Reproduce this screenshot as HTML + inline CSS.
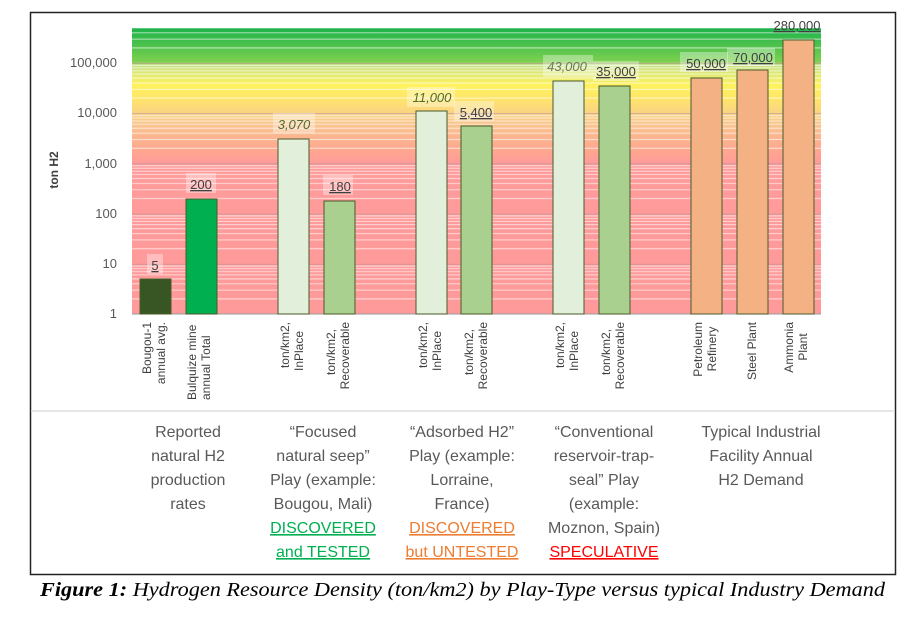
<!DOCTYPE html>
<html><head><meta charset="utf-8"><style>
html,body{margin:0;padding:0;background:#fff;}
svg{display:block;}
</style></head><body>
<svg width="923" height="619" viewBox="0 0 923 619" xmlns="http://www.w3.org/2000/svg" font-family="Liberation Sans, sans-serif">
<defs>
<linearGradient id="bg" x1="0" y1="28" x2="0" y2="314" gradientUnits="userSpaceOnUse">
<stop offset="0" stop-color="#1db34a"/>
<stop offset="0.118" stop-color="#7dd050"/>
<stop offset="0.13" stop-color="#c8e285"/>
<stop offset="0.2" stop-color="#fff25e"/>
<stop offset="0.25" stop-color="#ffe46c"/>
<stop offset="0.3" stop-color="#f9d285"/>
<stop offset="0.35" stop-color="#f9c090"/>
<stop offset="0.43" stop-color="#ffa690"/>
<stop offset="0.475" stop-color="#ff9b9a"/>
<stop offset="1" stop-color="#ff9a9a"/>
</linearGradient>
<pattern id="grid" patternUnits="userSpaceOnUse" x="0" y="12.8" width="1000" height="50.2">
<g stroke="#fff" stroke-opacity="0.6" stroke-width="1">
<line x1="0" x2="1000" y1="35.1" y2="35.1"/>
<line x1="0" x2="1000" y1="26.3" y2="26.3"/>
<line x1="0" x2="1000" y1="20" y2="20"/>
<line x1="0" x2="1000" y1="15.1" y2="15.1"/>
<line x1="0" x2="1000" y1="11.1" y2="11.1"/>
<line x1="0" x2="1000" y1="7.8" y2="7.8"/>
<line x1="0" x2="1000" y1="4.9" y2="4.9"/>
<line x1="0" x2="1000" y1="2.3" y2="2.3"/>
</g>
<line x1="0" x2="1000" y1="0.5" y2="0.5" stroke="#b89090" stroke-opacity="0.6"/>
</pattern>
</defs>
<rect x="30.5" y="12.5" width="865" height="562" fill="#fff" stroke="#222" stroke-width="1.5"/>
<line x1="31" x2="895" y1="411" y2="411" stroke="#ddd" stroke-width="1.5"/>
<rect x="132" y="28" width="689" height="286" fill="url(#bg)"/>
<rect x="132" y="28" width="689" height="286" fill="url(#grid)"/>
<line x1="132" x2="821" y1="314" y2="314" stroke="#999"/>
<!-- y ticks -->
<g font-size="13" fill="#595959" text-anchor="end">
<text x="117" y="318">1</text>
<text x="117" y="268">10</text>
<text x="117" y="218">100</text>
<text x="117" y="168">1,000</text>
<text x="117" y="117">10,000</text>
<text x="117" y="67">100,000</text>
</g>
<text transform="translate(58,170) rotate(-90)" font-size="12" font-weight="bold" fill="#404040" text-anchor="middle">ton H2</text>
<!-- bars -->
<g stroke="#4a5a2a" stroke-width="1">
<rect x="140" y="279" width="31" height="35" fill="#375623"/>
<rect x="186" y="199" width="31" height="115" fill="#00b050"/>
<rect x="278" y="139" width="31" height="175" fill="#e2efda"/>
<rect x="324" y="201" width="31" height="113" fill="#a9d08e"/>
<rect x="416" y="111" width="31" height="203" fill="#e2efda"/>
<rect x="461" y="126" width="31" height="188" fill="#a9d08e"/>
<rect x="553" y="81" width="31" height="233" fill="#e2efda"/>
<rect x="599" y="86" width="31" height="228" fill="#a9d08e"/>
<rect x="691" y="78" width="31" height="236" fill="#f4b183"/>
<rect x="737" y="70" width="31" height="244" fill="#f4b183"/>
<rect x="783" y="40" width="31" height="274" fill="#f4b183"/>
</g>
<!-- value labels -->
<g font-size="13" fill="#404040" text-anchor="middle">
<rect x="147" y="254" width="16" height="20" fill="#fff" fill-opacity="0.35"/>
<text x="155" y="270" text-decoration="underline">5</text>
<rect x="186" y="173" width="30" height="20" fill="#fff" fill-opacity="0.35"/>
<text x="201" y="189" text-decoration="underline">200</text>
<rect x="273" y="113" width="42" height="20" fill="#fff" fill-opacity="0.35"/>
<text x="294" y="129" font-style="italic" fill="#4f6b2f">3,070</text>
<rect x="323" y="175" width="30" height="20" fill="#fff" fill-opacity="0.35"/>
<text x="340" y="191" text-decoration="underline">180</text>
<rect x="407" y="87" width="48" height="20" fill="#fff" fill-opacity="0.35"/>
<text x="432" y="102" font-style="italic" fill="#4f6b2f">11,000</text>
<rect x="454" y="101" width="40" height="20" fill="#fff" fill-opacity="0.35"/>
<text x="476" y="117" text-decoration="underline">5,400</text>
<rect x="543" y="55" width="50" height="22" fill="#fff" fill-opacity="0.35"/>
<text x="567" y="71" font-style="italic" fill="#6a7a5a">43,000</text>
<rect x="593" y="61" width="46" height="20" fill="#fff" fill-opacity="0.35"/>
<text x="616" y="76" text-decoration="underline">35,000</text>
<rect x="680" y="52" width="48" height="20" fill="#fff" fill-opacity="0.35"/>
<text x="706" y="68" text-decoration="underline">50,000</text>
<rect x="727" y="48" width="48" height="18" fill="#fff" fill-opacity="0.35"/>
<text x="753" y="62" text-decoration="underline">70,000</text>
<text x="797" y="30" text-decoration="underline">280,000</text>
</g>
<!-- category labels -->
<g font-size="12" fill="#404040" text-anchor="end">
<text transform="translate(151,322) rotate(-90)">Bougou-1</text>
<text transform="translate(165,322) rotate(-90)">annual avg.</text>
<text transform="translate(196,322) rotate(-90)" text-anchor="start" dx="-78">Bulquize mine</text>
<text transform="translate(210,322) rotate(-90)" text-anchor="start" dx="-78">annual Total</text>
<text transform="translate(289,322) rotate(-90)">ton/km2,</text>
<text transform="translate(303,322) rotate(-90)" text-anchor="middle" dx="-29">InPlace</text>
<text transform="translate(335,322) rotate(-90)" text-anchor="middle" dx="-30">ton/km2,</text>
<text transform="translate(349,322) rotate(-90)">Recoverable</text>
<text transform="translate(427,322) rotate(-90)">ton/km2,</text>
<text transform="translate(441,322) rotate(-90)" text-anchor="middle" dx="-29">InPlace</text>
<text transform="translate(473,322) rotate(-90)" text-anchor="middle" dx="-30">ton/km2,</text>
<text transform="translate(487,322) rotate(-90)">Recoverable</text>
<text transform="translate(564,322) rotate(-90)">ton/km2,</text>
<text transform="translate(578,322) rotate(-90)" text-anchor="middle" dx="-29">InPlace</text>
<text transform="translate(610,322) rotate(-90)" text-anchor="middle" dx="-30">ton/km2,</text>
<text transform="translate(624,322) rotate(-90)">Recoverable</text>
<text transform="translate(702,322) rotate(-90)">Petroleum</text>
<text transform="translate(716,322) rotate(-90)" text-anchor="middle" dx="-27">Refinery</text>
<text transform="translate(756,322) rotate(-90)">Steel Plant</text>
<text transform="translate(793,322) rotate(-90)">Ammonia</text>
<text transform="translate(807,322) rotate(-90)" text-anchor="middle" dx="-25">Plant</text>
</g>
<!-- group labels -->
<g font-size="16" fill="#595959" text-anchor="middle">
<text x="188" y="437">Reported</text>
<text x="188" y="461">natural H2</text>
<text x="188" y="485">production</text>
<text x="188" y="509">rates</text>
<text x="323" y="437">“Focused</text>
<text x="323" y="461">natural seep”</text>
<text x="323" y="485">Play (example:</text>
<text x="323" y="509">Bougou, Mali)</text>
<text x="323" y="533" fill="#00b050" text-decoration="underline">DISCOVERED</text>
<text x="323" y="557" fill="#00b050" text-decoration="underline">and TESTED</text>
<text x="462" y="437">“Adsorbed H2”</text>
<text x="462" y="461">Play (example:</text>
<text x="462" y="485">Lorraine,</text>
<text x="462" y="509">France)</text>
<text x="462" y="533" fill="#ed7d31" text-decoration="underline">DISCOVERED</text>
<text x="462" y="557" fill="#ed7d31" text-decoration="underline">but UNTESTED</text>
<text x="604" y="437">“Conventional</text>
<text x="604" y="461">reservoir-trap-</text>
<text x="604" y="485">seal” Play</text>
<text x="604" y="509">(example:</text>
<text x="604" y="533">Moznon, Spain)</text>
<text x="604" y="557" fill="#ff0000" text-decoration="underline">SPECULATIVE</text>
<text x="761" y="437">Typical Industrial</text>
<text x="761" y="461">Facility Annual</text>
<text x="761" y="485">H2 Demand</text>
</g>
<text x="40" y="596" font-family="Liberation Serif, serif" font-size="20" font-style="italic" fill="#000" textLength="845" lengthAdjust="spacingAndGlyphs"><tspan font-weight="bold">Figure 1:</tspan> Hydrogen Resource Density (ton/km2) by Play-Type versus typical Industry Demand</text>
</svg>
</body></html>
